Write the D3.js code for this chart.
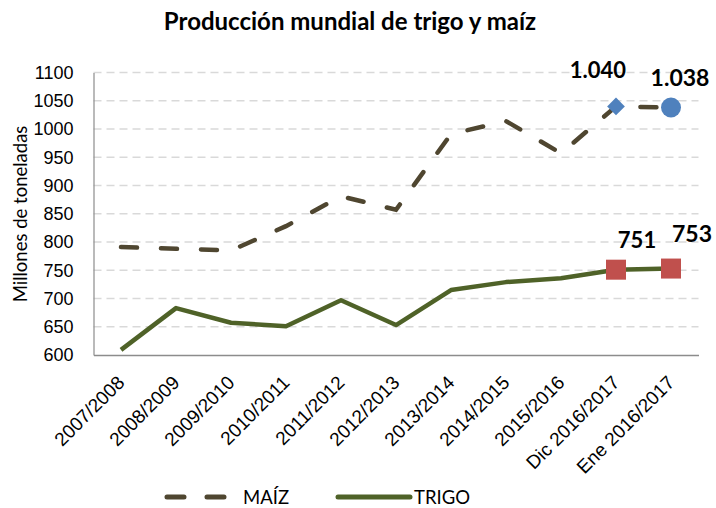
<!DOCTYPE html>
<html lang="es">
<head>
<meta charset="UTF-8">
<script src="https://cdn.jsdelivr.net/npm/d3@7"></script>
<style>
  body { margin: 0; background: #fff; }
  svg { font-family: Lato, "Open Sans", sans-serif; }
</style>
</head>
<body>
<script>
  const categories = ["2007/2008", "2008/2009", "2009/2010", "2010/2011", "2011/2012",
    "2012/2013", "2013/2014", "2014/2015", "2015/2016", "Dic 2016/2017", "Ene 2016/2017"];
  const maiz = [791, 788, 785, 828, 881, 857, 991, 1014, 957, 1040, 1038];
  const trigo = [609, 683, 657, 651, 697, 653, 715, 729, 736, 751, 753];
  const yTicks = [600, 650, 700, 750, 800, 850, 900, 950, 1000, 1050, 1100];

  const width = 716, height = 508;
  const margin = { left: 93.5, right: 17.5, top: 72.5, bottom: 153 };

  const svg = d3.select("body").append("svg")
    .attr("width", width).attr("height", height);

  const x = d3.scaleBand().domain(categories)
    .range([margin.left, width - margin.right]);
  const y = d3.scaleLinear().domain([600, 1100])
    .range([height - margin.bottom, margin.top]);
  const cx = d => x(d) + x.bandwidth() / 2;

  // gridlines
  svg.append("g").selectAll("line")
    .data(yTicks.slice(1))
    .join("line")
    .attr("x1", margin.left).attr("x2", width - margin.right)
    .attr("y1", d => y(d)).attr("y2", d => y(d))
    .attr("stroke", "#d9d9d9").attr("stroke-width", 1.5)
    .attr("stroke-dasharray", "8,5");

  // y axis
  const yAxis = svg.append("g")
    .attr("transform", `translate(${margin.left},0)`)
    .call(d3.axisLeft(y).tickValues(yTicks).tickFormat(d3.format("d")).tickSize(0).tickPadding(20));
  yAxis.select(".domain").attr("stroke", "#8c8c8c").attr("stroke-width", 1.2);
  yAxis.selectAll("text").attr("font-size", 18).attr("fill", "#000");

  // x axis
  const xAxis = svg.append("g")
    .attr("transform", `translate(0,${y(600)})`)
    .call(d3.axisBottom(x).tickSize(0).tickPadding(0));
  xAxis.select(".domain").attr("stroke", "#8c8c8c").attr("stroke-width", 1.5);
  xAxis.selectAll("text")
    .attr("font-size", 19).attr("fill", "#000")
    .attr("text-anchor", "end")
    .attr("y", 0)
    .attr("dy", "0.35em")
    .attr("transform", "translate(0,24) rotate(-45)");

  // axis title
  svg.append("text")
    .attr("transform", `translate(27,214) rotate(-90)`)
    .attr("text-anchor", "middle")
    .attr("font-size", 18.5)
    .text("Millones de toneladas");

  // title
  svg.append("text")
    .attr("x", 350).attr("y", 30)
    .attr("text-anchor", "middle")
    .attr("font-size", 24).attr("font-weight", "bold")
    .text("Producción mundial de trigo y maíz");

  const line = d3.line().x((d, i) => cx(categories[i])).y(d => y(d));

  svg.append("path").datum(trigo)
    .attr("d", line).attr("fill", "none")
    .attr("stroke", "#4f6228").attr("stroke-width", 4.5)
    .attr("stroke-linejoin", "round");

  svg.append("path").datum(maiz)
    .attr("d", line).attr("fill", "none")
    .attr("stroke", "#4f4630").attr("stroke-width", 4.5)
    .attr("stroke-linecap", "round")
    .attr("stroke-dasharray", "16,24");

  // markers
  const n = categories.length;
  svg.append("path")
    .attr("d", d3.symbol(d3.symbolDiamond2, 200)())
    .attr("transform", `translate(${cx(categories[n - 2])},${y(maiz[n - 2])})`)
    .attr("fill", "#4f81bd");
  svg.append("circle")
    .attr("cx", cx(categories[n - 1])).attr("cy", y(maiz[n - 1])).attr("r", 10)
    .attr("fill", "#4f81bd");
  svg.append("g").selectAll("rect")
    .data([n - 2, n - 1])
    .join("rect")
    .attr("x", i => cx(categories[i]) - 10)
    .attr("y", i => y(trigo[i]) - 10)
    .attr("width", 20).attr("height", 20)
    .attr("fill", "#c0504d");

  // value labels
  const labels = [
    { i: n - 2, v: maiz[n - 2], t: "1.040", dx: -18, dy: -28, fs: 22 },
    { i: n - 1, v: maiz[n - 1], t: "1.038", dx: 9, dy: -22, fs: 23 },
    { i: n - 2, v: trigo[n - 2], t: "751", dx: 21, dy: -22, fs: 22 },
    { i: n - 1, v: trigo[n - 1], t: "753", dx: 21, dy: -27, fs: 23 }
  ];
  svg.append("g").selectAll("text")
    .data(labels)
    .join("text")
    .attr("x", d => cx(categories[d.i]) + d.dx)
    .attr("y", d => y(d.v) + d.dy)
    .attr("text-anchor", "middle")
    .attr("font-size", d => d.fs).attr("font-weight", "bold")
    .text(d => d.t);

  // legend
  const lg = svg.append("g").attr("transform", "translate(0,497)");
  lg.append("line").attr("x1", 167).attr("x2", 226)
    .attr("stroke", "#4f4630").attr("stroke-width", 5)
    .attr("stroke-linecap", "round").attr("stroke-dasharray", "17,23");
  lg.append("text").attr("x", 243).attr("y", 6.5).attr("font-size", 18.5).text("MAÍZ");
  lg.append("line").attr("x1", 338).attr("x2", 410)
    .attr("stroke", "#4f6228").attr("stroke-width", 5)
    .attr("stroke-linecap", "round");
  lg.append("text").attr("x", 414).attr("y", 6.5).attr("font-size", 18.5).text("TRIGO");
</script>
</body>
</html>
